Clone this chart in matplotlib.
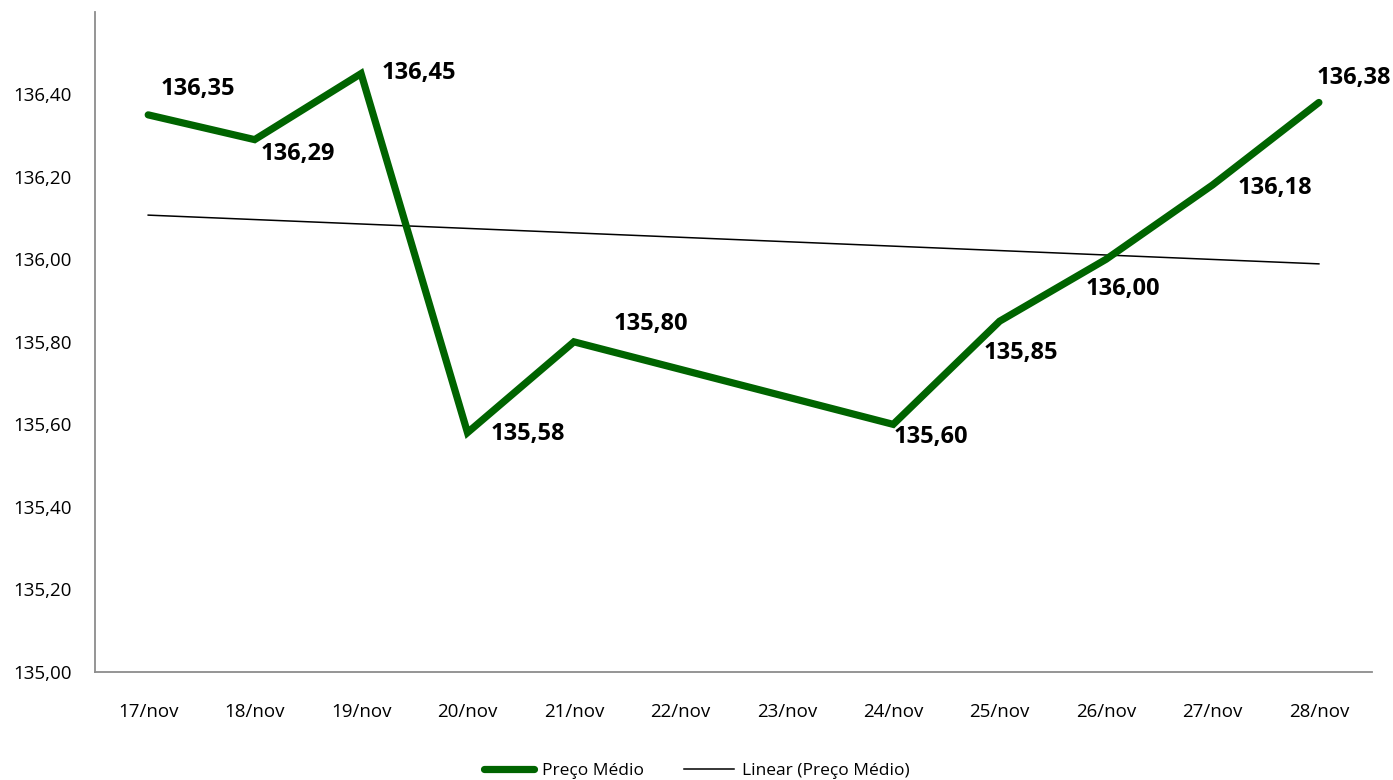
import matplotlib.pyplot as plt
import numpy as np

plt.rcParams['font.family'] = ['Open Sans', 'DejaVu Sans']

# dados
dias = ['17/nov', '18/nov', '19/nov', '20/nov', '21/nov', '22/nov',
        '23/nov', '24/nov', '25/nov', '26/nov', '27/nov', '28/nov']
preco = [136.35, 136.29, 136.45, 135.58, 135.80, None,
         None, 135.60, 135.85, 136.00, 136.18, 136.38]
rotulos = ['136,35', '136,29', '136,45', '135,58', '135,80', '',
           '', '135,60', '135,85', '136,00', '136,18', '136,38']
# deslocamento dos rótulos (pixels)
desloc = [(50, 26), (43, -14), (58, 1), (60, -1), (77, 18), None,
          None, (38, -13), (21, -32), (17, -30), (62, -3), (35, 24)]

x = np.array([i for i, v in enumerate(preco) if v is not None])
y = np.array([v for v in preco if v is not None])

# linha de tendência linear (como no Excel)
coef = np.polyfit(x + 1, y, 1)
x_tend = np.array([0, len(dias) - 1])
y_tend = np.polyval(coef, x_tend + 1)

fig = plt.figure(figsize=(13.93, 7.8), dpi=100)
ax = fig.add_axes([0.0682, 0.1385, 0.9168, 0.8465])

ax.plot(x, y, color='#006400', linewidth=5.2, solid_capstyle='round',
        solid_joinstyle='miter', label='Preço Médio', zorder=3)
ax.plot(x_tend, y_tend, color='black', linewidth=1.1,
        label='Linear (Preço Médio)', zorder=2)

for i, v in enumerate(preco):
    if v is None:
        continue
    ax.annotate(rotulos[i], (i, v), xytext=desloc[i], textcoords='offset pixels',
                ha='center', va='center', fontsize=17, fontweight='bold', zorder=4)

ax.set_xlim(-0.5, len(dias) - 0.5)
ax.set_ylim(135.0, 136.6)
ax.set_xticks(range(len(dias)))
ax.set_xticklabels(dias)
yt = np.arange(135.0, 136.41, 0.2)
ax.set_yticks(yt)
ax.set_yticklabels([f'{t:.2f}'.replace('.', ',') for t in yt])
ax.tick_params(axis='both', length=0, labelsize=13.5, colors='black')
ax.tick_params(axis='x', pad=22)
ax.tick_params(axis='y', pad=17)

for s in ['top', 'right']:
    ax.spines[s].set_visible(False)
for s in ['left', 'bottom']:
    ax.spines[s].set_color('#8c8c8c')
    ax.spines[s].set_linewidth(1.3)

fig.legend(loc='center', bbox_to_anchor=(0.5, 0.012), ncol=2, frameon=False,
           fontsize=12.5, handlelength=2.9, handletextpad=0.45, columnspacing=2.3)

fig.savefig('out.png', dpi=100)
